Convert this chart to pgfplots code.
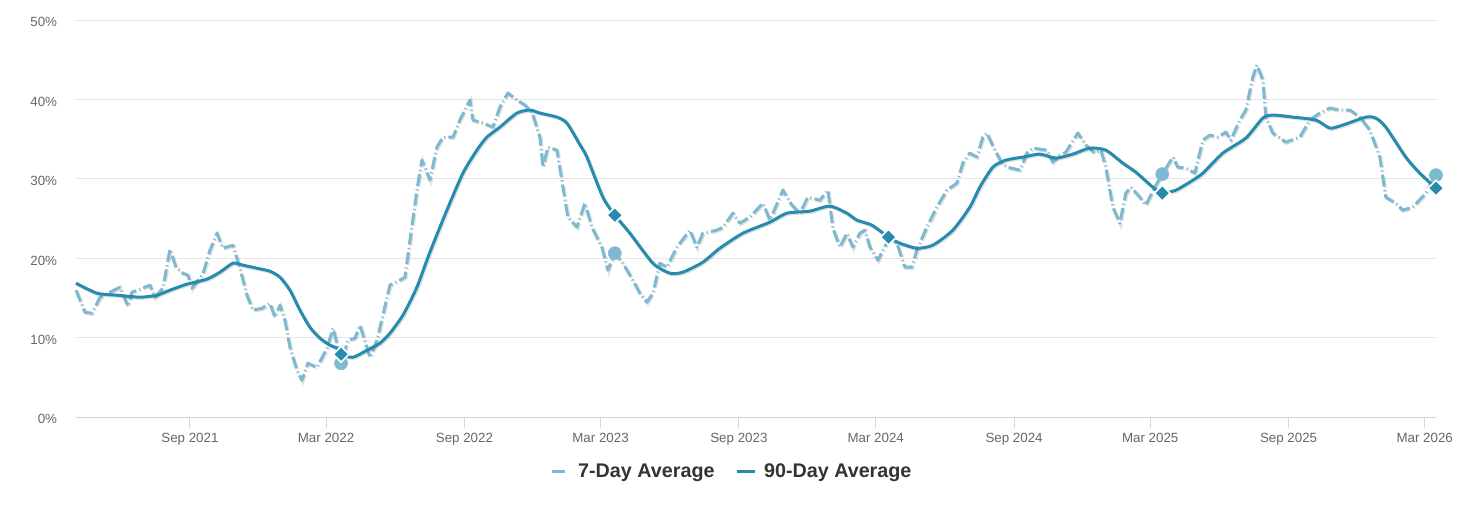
\documentclass[border=0pt]{standalone}
\usepackage{fontspec}
\setmainfont{Liberation Sans}
\usepackage{pgfplots}
\usepackage{pgfplotstable}
\pgfplotsset{compat=1.18}

\definecolor{sevenday}{HTML}{7DB9D0}
\definecolor{ninetyday}{HTML}{268CAF}
\definecolor{gridgray}{HTML}{E6E6E6}
\definecolor{axisblue}{HTML}{CCD6EB}
\definecolor{ticktext}{HTML}{666666}
\definecolor{legtext}{HTML}{333333}

\pgfplotsset{
  lineleg/.style={legend image code/.code={\draw[##1] (0pt,0pt) -- (13.5pt,0pt); \path[draw=none] (0pt,0pt) -- (18pt,0pt);}},
  dashleg/.style={legend image code/.code={\draw[##1, solid] (0pt,0pt) -- (10pt,0pt); \path[draw=none] (0pt,0pt) -- (18pt,0pt);}},
}

% x = days since 2021-01-01, y = percent
\pgfplotstableread{
d v
91.5 15.97
103.4 13.20
112.7 13.07
123.4 15.09
134.0 15.59
150.0 16.35
160.6 13.95
165.9 15.72
183.2 16.35
189.8 16.60
196.5 15.09
207.1 16.22
216.4 21.14
224.4 18.87
233.7 18.11
240.4 17.86
245.7 16.22
260.3 17.99
269.6 21.01
278.9 23.15
286.9 21.26
300.2 21.64
309.5 18.74
318.8 15.34
326.8 13.45
338.8 13.70
349.4 14.33
356.0 12.57
362.7 14.08
369.3 12.19
376.0 8.78
385.3 5.89
391.9 4.62
399.9 6.77
411.9 6.26
425.2 8.66
433.2 11.18
439.8 8.78
444.0 6.77
453.1 9.67
462.4 9.92
469.1 11.56
482.4 7.52
491.7 9.67
508.9 16.60
522.2 17.23
528.9 17.61
544.8 28.57
551.5 32.35
562.1 29.83
571.4 33.99
579.4 35.25
592.7 35.25
602.0 37.40
615.3 39.92
619.3 37.40
632.6 37.02
645.9 36.51
655.2 39.03
665.8 40.80
677.8 39.92
688.4 39.29
697.8 38.40
708.4 35.25
712.4 31.47
719.0 33.99
731.0 33.61
739.0 28.95
745.6 25.17
757.6 23.91
768.2 26.93
777.5 23.91
790.8 21.39
798.8 18.49
808.0 20.63
818.7 19.37
832.0 17.23
841.3 15.59
850.7 14.46
858.6 15.59
867.9 19.37
877.2 18.87
890.5 21.39
907.8 23.53
917.1 21.39
925.1 23.15
943.7 23.53
951.7 23.91
965.0 25.67
974.3 24.41
987.6 25.17
1004.9 26.93
1014.2 24.79
1031.5 28.57
1043.4 26.68
1054.1 25.67
1064.7 27.69
1080.7 27.31
1091.3 28.57
1098.0 23.78
1107.3 21.39
1116.6 23.15
1124.6 21.39
1133.9 23.15
1140.5 23.53
1147.2 21.39
1157.8 19.75
1172.0 22.40
1183.1 21.89
1193.7 18.87
1203.0 18.87
1209.6 21.01
1222.9 23.91
1236.2 26.43
1249.5 28.57
1262.8 29.45
1270.8 31.98
1280.1 33.24
1289.4 32.73
1297.4 35.25
1302.7 35.76
1313.4 33.61
1322.7 31.98
1329.3 31.47
1346.6 31.09
1355.9 33.24
1363.9 33.87
1382.5 33.61
1390.5 32.10
1399.8 32.98
1407.8 33.36
1423.7 35.76
1434.4 34.24
1446.3 33.24
1454.3 33.61
1460.9 31.47
1470.2 26.43
1479.6 24.41
1487.5 28.19
1494.2 28.95
1506.1 27.69
1514.1 26.68
1526.1 28.95
1536.0 30.59
1550.0 32.73
1556.7 31.47
1567.3 31.35
1579.3 30.72
1589.9 34.87
1599.2 35.50
1609.9 35.25
1620.5 35.88
1627.1 34.87
1639.1 37.40
1647.1 38.66
1656.4 42.81
1661.7 44.33
1669.7 42.44
1673.7 37.77
1683.0 35.76
1700.3 34.62
1718.9 35.25
1732.2 37.40
1745.5 38.28
1758.8 38.91
1772.1 38.66
1785.4 38.66
1798.7 37.77
1812.0 36.13
1825.3 32.73
1833.2 27.69
1846.5 26.93
1855.8 26.05
1869.1 26.43
1886.4 28.19
1900.0 30.46
}\sevenday

\pgfplotstableread{
d v
91.5 16.85
119.4 15.59
146.0 15.34
176.5 15.09
199.1 15.34
216.4 15.97
239.0 16.73
265.6 17.36
282.9 18.24
300.2 19.37
313.5 19.12
332.1 18.74
349.4 18.36
362.7 17.61
376.0 15.97
389.3 13.45
402.6 11.30
415.9 9.92
429.2 9.04
438.5 8.66
444.0 7.90
459.7 7.52
478.4 8.41
495.6 9.29
508.9 10.55
526.2 12.82
544.8 16.35
562.1 20.76
584.7 26.05
606.0 30.71
624.6 33.61
637.9 35.25
655.2 36.51
677.8 38.28
695.1 38.66
708.4 38.28
731.0 37.77
744.3 37.02
761.6 34.29
770.9 32.73
792.1 27.69
808.0 25.42
828.0 23.15
858.6 19.37
881.2 18.11
898.5 18.24
925.1 19.50
947.7 21.26
978.3 23.15
1014.2 24.54
1036.8 25.67
1067.4 25.93
1094.0 26.56
1116.6 25.67
1129.9 24.79
1149.8 24.16
1172.0 22.65
1187.0 21.89
1209.6 21.26
1230.9 21.64
1257.5 23.53
1280.1 26.43
1293.4 28.95
1310.7 31.47
1327.9 32.35
1350.5 32.73
1373.1 33.11
1394.4 32.61
1417.1 33.11
1439.7 33.87
1460.9 33.61
1483.5 31.98
1500.8 30.84
1523.4 28.95
1536.0 28.19
1554.0 28.57
1572.6 29.58
1589.9 30.71
1616.5 33.24
1647.1 35.13
1669.7 37.65
1683.0 38.03
1709.6 37.77
1740.2 37.40
1758.8 36.39
1776.1 36.77
1806.7 37.77
1819.9 37.65
1833.2 36.51
1859.8 32.73
1878.4 30.71
1900.0 28.82
}\ninetyday

\begin{document}
\begin{tikzpicture}
\useasboundingbox (0,0) rectangle (1104.75pt,384pt);
\begin{axis}[
    at={(57pt,71.25pt)}, anchor=south west,
    scale only axis,
    width=1020pt, height=297.75pt,
    xmin=91.5, xmax=1900,
    ymin=0, ymax=50,
    axis line style={draw=none},
    ymajorgrids,
    grid style={color=gridgray, line width=0.75pt},
    ytick={0,10,20,30,40,50},
    yticklabels={0\%,10\%,20\%,30\%,40\%,50\%},
    ytick style={draw=none},
    yticklabel style={anchor=base east, inner sep=0pt, xshift=-6pt, yshift=-5.2pt,
        font=\fontsize{10pt}{12pt}\selectfont, text=ticktext},
    xtick={243,424,608,789,973,1155,1339,1520,1704,1885},
    xticklabels={Sep 2021,Mar 2022,Sep 2022,Mar 2023,Sep 2023,Mar 2024,Sep 2024,Mar 2025,Sep 2025,Mar 2026},
    xtick pos=bottom,
    tick align=outside,
    major tick length=8pt,
    xtick style={draw=axisblue, line width=0.75pt},
    xticklabel style={anchor=base, inner sep=0pt, yshift=-10.9pt,
        font=\fontsize{10pt}{12pt}\selectfont, text=ticktext},
    legend columns=2,
    legend style={draw=none, fill=none, at={(0.4824,-0.1385)}, anchor=center,
        font=\fontsize{14.8pt}{17pt}\selectfont\bfseries, text=legtext,
        /tikz/every even column/.append style={column sep=14pt}},
    lineleg,
    clip=false,
]
\draw[axisblue, line width=0.75pt] (rel axis cs:0,0) -- (rel axis cs:1,0);
% shadows
\addplot[forget plot, black, opacity=0.12, line width=2.6pt,
    dash pattern=on 9pt off 2.5pt on 0.8pt off 2.5pt, transform canvas={xshift=0.75pt, yshift=-0.75pt}]
    table[x=d, y=v] {\sevenday};
\addplot[sevenday, line width=2.25pt, line join=round,
    dash pattern=on 9pt off 2.5pt on 0.8pt off 2.5pt, dashleg]
    table[x=d, y=v] {\sevenday};
\addlegendentry{7-Day Average}
\addplot[forget plot, black, opacity=0.12, line width=2.6pt, line join=round, smooth, tension=0.4,
    transform canvas={xshift=0.75pt, yshift=-0.75pt}]
    table[x=d, y=v] {\ninetyday};
\addplot[ninetyday, line width=2.25pt, line join=round, smooth, tension=0.4]
    table[x=d, y=v] {\ninetyday};
\addlegendentry{90-Day Average}
% markers
\addplot[forget plot, sevenday, only marks, mark=*, mark size=4.9pt,
    mark options={draw=sevenday, fill=sevenday}]
    coordinates {(444,6.77) (808,20.63) (1536,30.59) (1900,30.46)};
\addplot[forget plot, white, only marks, mark=square*, mark size=4.2pt,
    mark options={rotate=45, draw=white, line width=1.2pt, fill=ninetyday}]
    coordinates {(444,7.90) (808,25.42) (1172,22.65) (1536,28.19) (1900,28.82)};
\end{axis}
\end{tikzpicture}
\end{document}
